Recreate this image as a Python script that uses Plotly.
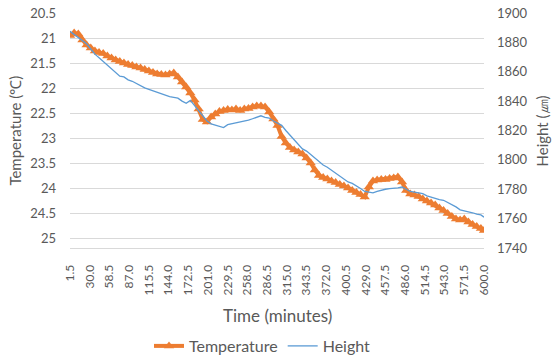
import plotly.graph_objects as go

TIME = [round(1.5 + 6 * i, 1) for i in range(100)] + [600.0]
TICK_TIMES = [1.5, 30.0, 58.5, 87.0, 115.5, 144.0, 172.5, 201.0, 229.5, 258.0, 286.5,
              315.0, 343.5, 372.0, 400.5, 429.0, 457.5, 486.0, 514.5, 543.0, 571.5, 600.0]
TEMP_TICKS = [20.5, 21, 21.5, 22, 22.5, 23, 23.5, 24, 24.5, 25]
HEIGHT_TICKS = [1740, 1760, 1780, 1800, 1820, 1840, 1860, 1880, 1900]

TEMPERATURE = [
    20.95, 20.90, 20.92, 21.04, 21.14, 21.20, 21.26, 21.29, 21.31, 21.36,
    21.40, 21.44, 21.47, 21.50, 21.53, 21.55, 21.58, 21.60, 21.63, 21.66,
    21.69, 21.72, 21.73, 21.74, 21.72, 21.70, 21.78, 21.88, 21.98, 22.10,
    22.24, 22.42, 22.63, 22.68, 22.58, 22.52, 22.47, 22.45, 22.43, 22.44,
    22.42, 22.45, 22.42, 22.41, 22.38, 22.36, 22.36, 22.38, 22.48, 22.62,
    22.75, 22.97, 23.10, 23.19, 23.24, 23.28, 23.32, 23.40, 23.50, 23.64,
    23.75, 23.79, 23.82, 23.86, 23.89, 23.93, 23.96, 24.00, 24.05, 24.09,
    24.13, 24.18, 23.98, 23.86, 23.84, 23.83, 23.83, 23.81, 23.80, 23.78,
    23.88, 24.05, 24.12, 24.14, 24.17, 24.22, 24.26, 24.30, 24.34, 24.40,
    24.45, 24.51, 24.57, 24.62, 24.64, 24.62, 24.68, 24.73, 24.77, 24.81,
    24.85,
]

HEIGHT = [
    1887.5, 1885.5, 1883.0, 1881.0, 1879.0, 1875.5, 1872.0, 1869.5, 1867.0, 1865.0,
    1862.5, 1860.0, 1857.0, 1856.5, 1854.5, 1853.5, 1852.0, 1850.0, 1849.0, 1848.0,
    1847.0, 1846.0, 1844.5, 1843.5, 1843.0, 1842.5, 1842.0, 1840.0, 1838.5, 1840.5,
    1837.0, 1833.0, 1829.5, 1826.5, 1824.5, 1823.5, 1823.0, 1822.0, 1824.0, 1824.5,
    1825.0, 1826.0, 1826.5, 1827.0, 1828.0, 1829.0, 1830.0, 1829.0, 1828.5, 1826.5,
    1825.0, 1823.5, 1820.0, 1817.0, 1813.5, 1810.5, 1807.5, 1806.0, 1803.5, 1801.5,
    1799.0, 1796.5, 1795.0, 1793.0, 1791.0, 1789.0, 1787.5, 1785.0, 1784.0, 1782.5,
    1780.5, 1778.5, 1778.0, 1777.5, 1778.5, 1779.5, 1780.0, 1780.5, 1780.5, 1781.0,
    1781.5, 1780.0, 1778.5, 1778.0, 1777.5, 1777.0, 1775.5, 1774.5, 1774.0, 1773.0,
    1772.5, 1771.0, 1770.0, 1768.0, 1766.0, 1765.5, 1764.5, 1764.0, 1763.0, 1762.5,
    1761.0,
]

FONT = "Lato, 'Liberation Sans', sans-serif"
GRAY = "#595959"

fig = go.Figure()
fig.add_trace(go.Scatter(
    x=TIME, y=TEMPERATURE, name="Temperature", mode="lines+markers",
    line=dict(color="#ED7D31", width=4),
    marker=dict(symbol="triangle-up", size=9, color="#ED7D31"),
    yaxis="y",
))
fig.add_trace(go.Scatter(
    x=TIME, y=HEIGHT, name="Height", mode="lines",
    line=dict(color="#5B9BD5", width=1.3),
    yaxis="y2",
))

fig.update_layout(
    width=553, height=356,
    margin=dict(l=70, r=69, t=13, b=108, autoexpand=False),
    paper_bgcolor="white", plot_bgcolor="white",
    font=dict(family=FONT, color=GRAY, size=13),
    showlegend=True,
    legend=dict(orientation="h", x=0.465, xanchor="center", y=-0.417, yanchor="middle",
                font=dict(size=16, color=GRAY), itemwidth=30, tracegroupgap=0),
    xaxis=dict(
        range=[1.5, 600], tickmode="array", tickvals=TICK_TIMES,
        ticktext=[f"{v:.1f}" for v in TICK_TIMES], tickangle=-90,
        tickfont=dict(size=12, color=GRAY), showgrid=False, zeroline=False,
        showline=True, linecolor="#d9d9d9", linewidth=1, ticks="",
        ticklabelstandoff=11,
    ),
    yaxis=dict(
        range=[25.2, 20.5], tickmode="array", tickvals=TEMP_TICKS,
        ticktext=[f"{v:g}" for v in TEMP_TICKS],
        showgrid=True, gridcolor="#d9d9d9", gridwidth=1, zeroline=False,
        tickfont=dict(size=13, color=GRAY), ticks="", showline=False,
        ticklabelstandoff=13,
    ),
    yaxis2=dict(
        range=[1740, 1900], tickmode="array", tickvals=HEIGHT_TICKS,
        overlaying="y", side="right", showgrid=False, zeroline=False,
        tickfont=dict(size=13, color=GRAY), ticks="", showline=False,
        ticklabelstandoff=12,
    ),
    annotations=[
        dict(text="Temperature (℃)", xref="paper", yref="paper", x=-0.135, y=0.5,
             xanchor="center", yanchor="middle", textangle=-90, showarrow=False,
             font=dict(size=15, color=GRAY, family=FONT)),
        dict(text="Height (㎛)", xref="paper", yref="paper", x=1.14, y=0.5,
             xanchor="center", yanchor="middle", textangle=-90, showarrow=False,
             font=dict(size=15, color=GRAY, family=FONT)),
        dict(text="Time (minutes)", xref="paper", yref="paper", x=0.5, y=-0.289,
             xanchor="center", yanchor="middle", showarrow=False,
             font=dict(size=17, color=GRAY, family=FONT)),
    ],
)

fig.write_html("out.html", config={"displayModeBar": False},
               post_script="document.body.style.margin='0';")
